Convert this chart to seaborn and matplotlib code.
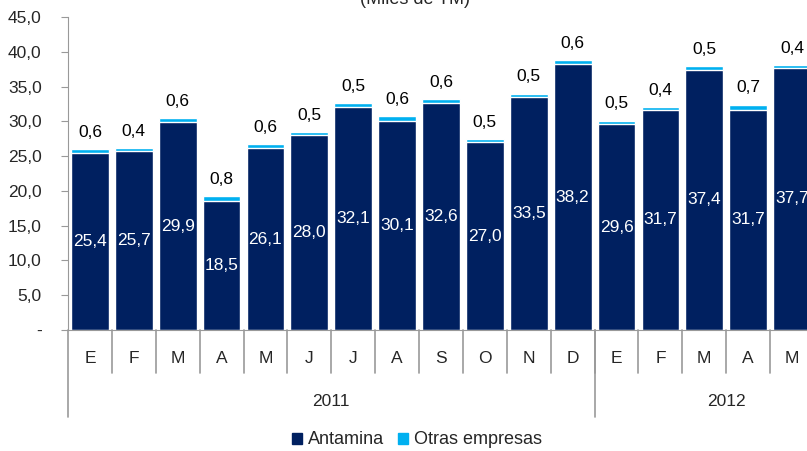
import numpy as np
import pandas as pd
import matplotlib
matplotlib.use("Agg")
import matplotlib.pyplot as plt
import seaborn as sns
from matplotlib.patches import Patch
from matplotlib.transforms import blended_transform_factory

# Monthly production, thousands of tonnes
months = ["E", "F", "M", "A", "M", "J", "J", "A", "S", "O", "N", "D",
          "E", "F", "M", "A", "M"]
years = ["2011"] * 12 + ["2012"] * 5
antamina = [25.4, 25.7, 29.9, 18.5, 26.1, 28.0, 32.1, 30.1, 32.6, 27.0, 33.5, 38.2,
            29.6, 31.7, 37.4, 31.7, 37.7]
otras = [0.6, 0.4, 0.6, 0.8, 0.6, 0.5, 0.5, 0.6, 0.6, 0.5, 0.5, 0.6,
         0.5, 0.4, 0.5, 0.7, 0.4]

navy = "#002060"
cyan = "#00B0F0"

df = pd.DataFrame({
    "key": [f"{y}-{i:02d}" for i, y in enumerate(years)],
    "Antamina": antamina,
    "Otras": otras,
})
df["Total"] = df["Antamina"] + df["Otras"]

sns.set_style("white")
plt.rcParams["font.family"] = ["Liberation Sans", "DejaVu Sans"]
fs = 12.5

fig = plt.figure(figsize=(8.07, 4.51), dpi=100)
ax = fig.add_axes([68 / 807, 1 - 330 / 451, 746 / 807, 313 / 451])

sns.barplot(data=df, x="key", y="Total", color=cyan, saturation=1, width=0.86, ax=ax)
sns.barplot(data=df, x="key", y="Antamina", color=navy, saturation=1, width=0.86, ax=ax)

ax.set_xlim(-0.5, len(df) - 0.5)
ax.set_ylim(0, 45)
ax.set_xlabel("")
ax.set_ylabel("")

# value labels
for i, row in df.iterrows():
    ax.text(i, row["Antamina"] / 2, f"{row['Antamina']:.1f}".replace(".", ","),
            ha="center", va="center", color="white", fontsize=fs)
    ax.annotate(f"{row['Otras']:.1f}".replace(".", ","), (i, row["Total"]),
                xytext=(0, 12), textcoords="offset points",
                ha="center", va="center", color="black", fontsize=fs)

# y axis
yt = np.arange(0, 46, 5)
ax.set_yticks(yt)
ax.set_yticklabels(["-"] + [f"{v:.1f}".replace(".", ",") for v in yt[1:]], fontsize=fs)
ax.tick_params(axis="y", length=5, color="#999999", pad=14, left=True)

for s in ["top", "right"]:
    ax.spines[s].set_visible(False)
ax.spines["left"].set_color("#999999")
ax.spines["bottom"].set_color("#999999")

# x axis: months then years
ax.set_xticks(range(len(df)))
ax.set_xticklabels(months, fontsize=fs)
ax.tick_params(axis="x", length=0, pad=15)

trans = blended_transform_factory(ax.transData, ax.transAxes)
h = 313
for b in np.arange(0.5, len(df) - 1, 1):
    ax.plot([b, b], [0, -43 / h], color="#999999", lw=1.2, transform=trans, clip_on=False)
for b in [-0.5, 11.5]:
    ax.plot([b, b], [0, -87 / h], color="#999999", lw=1.2, transform=trans, clip_on=False)
ax.text(5.5, -72 / h, "2011", ha="center", va="center", fontsize=fs, transform=trans)
ax.text(14.5, -72 / h, "2012", ha="center", va="center", fontsize=fs, transform=trans)

fig.text(415 / 807, 1.0, "(Miles de TM)", ha="center", va="center", fontsize=13)

handles = [Patch(color=navy, label="Antamina"), Patch(color=cyan, label="Otras empresas")]
fig.legend(handles=handles, loc="center", bbox_to_anchor=(417 / 807, 1 - 440 / 451),
           ncol=2, frameon=False, fontsize=13, handlelength=0.55, handleheight=0.55,
           handletextpad=0.3, columnspacing=0.8)

fig.savefig("out.png", dpi=100)
